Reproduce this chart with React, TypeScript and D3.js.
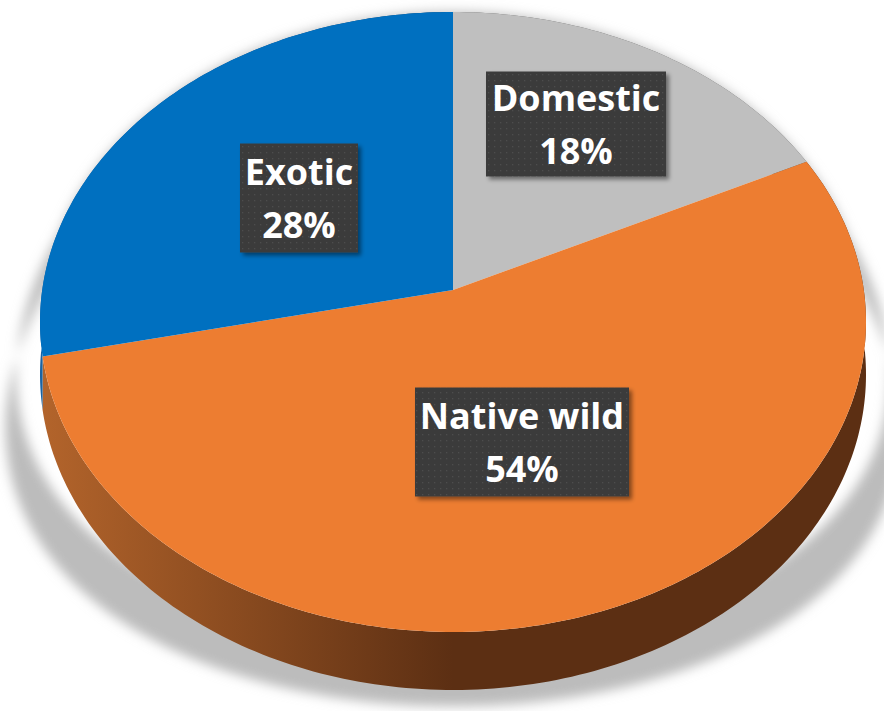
import React from 'react';
import * as d3 from 'd3';

// ---- data ----
const categories = ['Domestic', 'Native wild', 'Exotic'];
const values = [17.8, 53.8, 28.4];

// ---- styles ----
const topColors = ['#bfbfbf', '#ed7d31', '#0070c0'];
const sideStops = [
  ['#9a9a9a', '#606060'],
  ['#b3642b', '#5c2f13'],
  ['#1a63a3', '#003c6e'],
];

// label box layout (centres & sizes in px)
const labelBoxes = [
  { cx: 576, cy: 124, w: 180, h: 105 },
  { cx: 522, cy: 442, w: 214, h: 109 },
  { cx: 299, cy: 198, w: 118, h: 109 },
];

const W = 884;
const H = 711;
// perspective projection of the disk
const CX = 453;
const CY = 290;
const A = 410.8;
const B = 306.7;
const K = -0.1032;
const T = 52;

function proj(phi: number, f = 1, depth = 0): [number, number] {
  const X = f * Math.sin(phi);
  const Y = -f * Math.cos(phi);
  const d = 1 + K * Y;
  return [CX + (A * X) / d, CY + (B * Y + depth) / d];
}

function rim(a0: number, a1: number, depth = 0): [number, number][] {
  const n = Math.max(2, Math.ceil(((a1 - a0) / (Math.PI * 2)) * 360));
  const pts: [number, number][] = [];
  for (let i = 0; i <= n; i++) pts.push(proj(a0 + ((a1 - a0) * i) / n, 1, depth));
  return pts;
}

const line = d3.line<[number, number]>();

export default function App() {
  const total = d3.sum(values);
  const arcs = d3.pie<number>().sort(null).value((d) => d)(values);
  const pct = values.map((v) => `${Math.round((v / total) * 100)}%`);

  const topPaths = arcs.map((a) => {
    const pts = [[CX, CY] as [number, number], ...rim(a.startAngle, a.endAngle)];
    return line(pts) + 'Z';
  });
  const sidePaths = arcs.map((a) => {
    const top = rim(a.startAngle, a.endAngle);
    const bot = rim(a.startAngle, a.endAngle, T).reverse();
    return line([...top, ...bot]) + 'Z';
  });

  // shadow: silhouette widened progressively toward the bottom
  const sil = [...rim(0, Math.PI * 2), ...rim(0, Math.PI * 2, T).reverse()];
  const shadowPts = sil.map(([x, y]) => {
    const f = 1 + Math.max(0, y - 230) * 0.0005;
    return [CX + (x - CX) * f, y + Math.max(0, y - 60) * 0.026] as [number, number];
  });
  const shadowPath = line(shadowPts) + 'Z';

  return (
    <svg
      width={W}
      height={H}
      style={{ position: 'absolute', left: 0, top: 0, background: '#fff' }}
      fontFamily="'Open Sans', sans-serif"
    >
      <defs>
        <filter id="pieShadow" x="-20%" y="-20%" width="140%" height="140%">
          <feGaussianBlur stdDeviation="6" />
        </filter>
        <filter id="boxShadow" x="-20%" y="-20%" width="140%" height="140%">
          <feDropShadow dx="3" dy="3" stdDeviation="2" floodColor="#000" floodOpacity="0.45" />
        </filter>
        <pattern id="dots" width="6" height="6" patternUnits="userSpaceOnUse">
          <rect width="6" height="6" fill="#3b3b3b" />
          <rect x="2" y="2" width="1.2" height="1.2" fill="#4e4e4e" />
        </pattern>
        {sideStops.map((s, i) => (
          <linearGradient
            key={i}
            id={`side${i}`}
            gradientUnits="userSpaceOnUse"
            x1={CX - A}
            y1={0}
            x2={CX + A}
            y2={0}
          >
            <stop offset="0%" stopColor={s[0]} />
            <stop offset="50%" stopColor={s[1]} />
            <stop offset="100%" stopColor={s[1]} />
          </linearGradient>
        ))}
      </defs>

      {/* soft shadow behind the pie */}
      <path d={shadowPath} fill="#bcbcbc" filter="url(#pieShadow)" />

      {/* side walls */}
      {sidePaths.map((d, i) => (
        <path key={`s${i}`} d={d} fill={`url(#side${i})`} />
      ))}

      {/* top faces */}
      {topPaths.map((d, i) => (
        <path key={`t${i}`} d={d} fill={topColors[i]} />
      ))}

      {/* labels */}
      {labelBoxes.map((b, i) => (
        <g key={`l${i}`}>
          <rect
            x={b.cx - b.w / 2}
            y={b.cy - b.h / 2}
            width={b.w}
            height={b.h}
            fill="url(#dots)"
            filter="url(#boxShadow)"
          />
          <text
            x={b.cx}
            y={b.cy - 13}
            textAnchor="middle"
            fill="#fff"
            fontSize={36}
            fontWeight={700}
          >
            {categories[i]}
          </text>
          <text
            x={b.cx}
            y={b.cy + 40}
            textAnchor="middle"
            fill="#fff"
            fontSize={36}
            fontWeight={700}
          >
            {pct[i]}
          </text>
        </g>
      ))}
    </svg>
  );
}
